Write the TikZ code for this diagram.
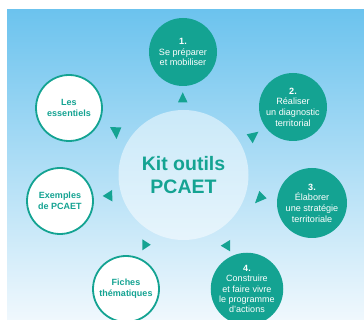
\documentclass[tikz,border=0pt]{standalone}
\usepackage{fontspec}
\setmainfont{Liberation Sans}
\definecolor{teal1}{RGB}{20,163,146}
\definecolor{bgtop}{RGB}{108,195,238}
\definecolor{bgbot}{RGB}{240,248,253}
\tikzset{
  full/.style={circle,fill=teal1,text=white,minimum size=68pt,inner sep=0pt,align=center,font=\fontsize{9.1}{10.6}\selectfont},
  hollow/.style={circle,fill=white,draw=teal1,line width=1.8pt,text=teal1,minimum size=66pt,inner sep=0pt,align=center,font=\bfseries\fontsize{9}{10.8}\selectfont},
  hub/.style={circle,fill=white,fill opacity=0.5,text opacity=1,text=teal1,minimum size=130pt,inner sep=0pt,align=center,font=\bfseries\fontsize{19.5}{23}\selectfont},
  tri/.style={fill=teal1}
}
\begin{document}
\begin{tikzpicture}[x=1pt,y=-1pt]
\useasboundingbox (0,0) rectangle (364,320);
\fill[white] (0,0) rectangle (364,320);
\shade[top color=bgtop,bottom color=bgbot] (7,10) rectangle (364,320);
\node[hub] (hub) at (183.5,175) {Kit outils\\PCAET};
\node[full] (s1) at (183,52) {\textbf{1.}\\Se préparer\\et mobiliser};
\node[full] (s2) at (293,107) {\textbf{2.}\\Réaliser\\un diagnostic\\territorial};
\node[full,minimum size=70pt] (s3) at (312,203) {\textbf{3.}\\Élaborer\\une stratégie\\territoriale};
\node[full,font=\fontsize{9}{10.2}\selectfont] (s4) at (247,289) {\textbf{4.}\\Construire\\et faire vivre\\le programme\\d'actions};
\node[hollow] (fiches) at (126,289) {Fiches\\thématiques};
\node[hollow] (exemples) at (60,201) {Exemples\\de PCAET};
\node[hollow] (essentiels) at (69,108) {Les\\essentiels};
% small triangles
\fill[tri] (182.7,92.3) -- (178,102.3) -- (187.5,102.3) -- cycle;
\fill[tri] (246.7,134.3) -- (258.5,131.7) -- (252.7,143.3) -- cycle;
\fill[tri] (110,127) -- (121.3,127.5) -- (116.5,139) -- cycle;
\fill[tri] (102.7,196) -- (112,190) -- (112.5,201.5) -- cycle;
\fill[tri] (266.7,198.3) -- (259.3,191) -- (255,203.3) -- cycle;
\fill[tri] (150.7,244.7) -- (142.3,239.3) -- (142.3,250.3) -- cycle;
\fill[tri] (220.7,245.7) -- (230,240) -- (230,251.3) -- cycle;
\end{tikzpicture}
\end{document}
